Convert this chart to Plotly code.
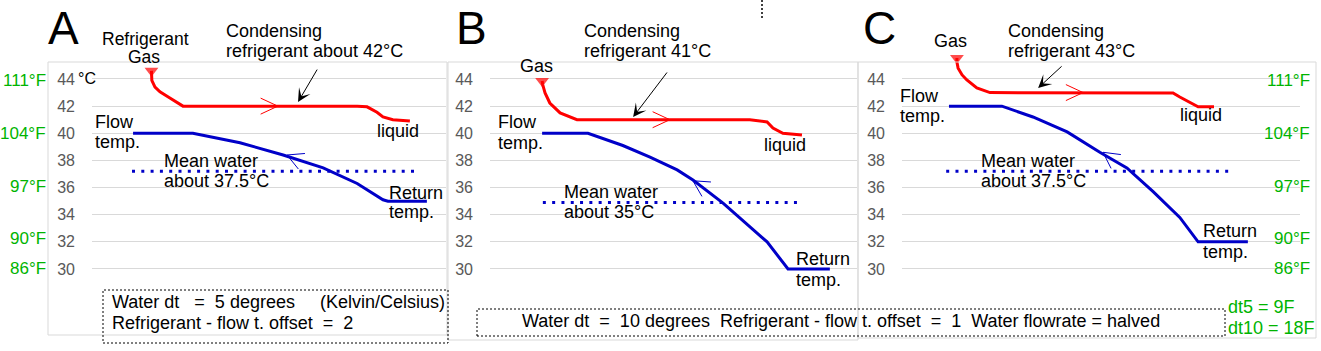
import math
import plotly.graph_objects as go

W, H = 1321, 351
FONT = "Liberation Sans, Arial, sans-serif"
RED = "#ff0000"
BLUE = "#0000c8"
GREEN = "#00b400"
GRID = "#d9d9d9"

# ---------------- data ----------------
temp_ticks = [30, 32, 34, 36, 38, 40, 42, 44]
fahrenheit_labels = [111, 104, 97, 90, 86]

# Panel A (x = position along condenser, 0..100)
refA_x = [16.8, 16.9, 17.8, 19.2, 22.0, 24.9, 25.7, 74.9, 77.7, 80.5, 82.2, 85.0, 89.8]
refA_y = [44.6, 43.9, 43.4, 43.05, 42.6, 42.15, 42.0, 42.0, 41.95, 41.55, 41.2, 41.0, 40.9]
waterA_x = [11.6, 28.5, 41.8, 54.0, 65.3, 74.9, 82.2, 83.6, 94.6]
waterA_y = [40.0, 40.0, 39.3, 38.4, 37.45, 36.3, 35.1, 35.0, 35.0]
meanA_x = [11.3, 92.7]
meanA_y = [37.2, 37.2]

# Panel B
refB_x = [14.2, 14.4, 15.0, 16.3, 19.1, 23.7, 70.8, 75.5, 77.1, 79.8, 85.0]
refB_y = [43.85, 43.55, 42.97, 42.23, 41.5, 41.0, 41.0, 40.83, 40.39, 40.0, 39.87]
waterB_x = [14.2, 26.7, 36.2, 43.6, 51.0, 55.3, 63.5, 68.9, 75.5, 81.2, 92.6]
waterB_y = [40.0, 40.0, 39.1, 38.25, 37.3, 36.55, 34.85, 33.6, 32.0, 30.0, 30.0]
meanB_x = [14.4, 85.0]
meanB_y = [34.9, 34.9]

# Panel C
refC_x = [13.8, 13.8, 14.1, 15.1, 16.3, 18.8, 22.1, 65.6, 68.1, 69.8, 71.1, 72.4, 74.4, 78.4]
refC_y = [45.55, 45.25, 44.8, 44.3, 43.93, 43.34, 43.0, 43.0, 42.97, 42.67, 42.45, 42.23, 41.95, 41.95]
waterC_x = [11.8, 25.1, 32.9, 41.5, 49.7, 56.5, 63.1, 69.8, 74.4, 86.9]
waterC_y = [42.0, 42.0, 41.2, 40.1, 38.6, 37.45, 35.7, 33.8, 32.0, 32.0]
meanC_x = [11.1, 83.2]
meanC_y = [37.2, 37.2]

# flow-direction chevrons (tip positions) and pointer arrow tips
red_chev = {"A": (52.5, 42.0), "B": (49.0, 41.0), "C": (45.5, 43.0)}
blue_chev = {"A": (55.1, 38.4, 156.7), "B": (55.3, 36.5, 148.1), "C": (50.5, 38.6, 144.6)}
pointer_tip = {"A": (58.2, 42.3), "B": (39.0, 41.2), "C": (34.2, 43.34)}

# ---------------- layout helpers ----------------
def px(x):
    return x / W

def py(y):
    return 1 - y / H

# y mapping: 44 deg at 79 px, 13.57 px per deg
Y_RANGE = [25.0, 46.5]
def ypix(v):
    return 79 - (v - 44) * 13.57
y_domain = [py(ypix(Y_RANGE[0])), py(ypix(Y_RANGE[1]))]

panels = {
    "A": dict(xa="x", ya="y", dom=[px(92), px(446)]),
    "B": dict(xa="x2", ya="y2", dom=[px(490), px(857)]),
    "C": dict(xa="x3", ya="y3", dom=[px(902), px(1300)]),
}
series = {
    "A": (refA_x, refA_y, waterA_x, waterA_y, meanA_x, meanA_y),
    "B": (refB_x, refB_y, waterB_x, waterB_y, meanB_x, meanB_y),
    "C": (refC_x, refC_y, waterC_x, waterC_y, meanC_x, meanC_y),
}

fig = go.Figure()
for key, p in panels.items():
    rx, ry, wx, wy, mx, my = series[key]
    fig.add_trace(go.Scatter(x=mx, y=my, xaxis=p["xa"], yaxis=p["ya"], mode="lines",
                             line=dict(color=BLUE, width=3, dash="3px,6.3px"),
                             hoverinfo="skip", cliponaxis=False))
    fig.add_trace(go.Scatter(x=wx, y=wy, xaxis=p["xa"], yaxis=p["ya"], mode="lines",
                             line=dict(color=BLUE, width=3), hoverinfo="skip"))
    fig.add_trace(go.Scatter(x=rx, y=ry, xaxis=p["xa"], yaxis=p["ya"], mode="lines+markers",
                             line=dict(color=RED, width=3),
                             marker=dict(symbol="triangle-down", color=RED,
                                         size=[12] + [0] * (len(rx) - 1), line=dict(width=0)),
                             hoverinfo="skip", cliponaxis=False))

shapes = []
annotations = []

def chevron(xa, ya, tx, ty, direction, length, half, color):
    pts = []
    for s in (1, -1):
        a = math.radians(direction + 180 + s * half)
        pts.append((length * math.cos(a), length * math.sin(a)))
    path = "M{:.1f},{:.1f} L0,0 L{:.1f},{:.1f}".format(pts[0][0], pts[0][1], pts[1][0], pts[1][1])
    return dict(type="path", xref=xa, yref=ya, xsizemode="pixel", ysizemode="pixel",
                xanchor=tx, yanchor=ty, path=path, line=dict(color=color, width=1))

pointer_offsets = {"A": (20, -34), "B": (35, -46), "C": (25, -23)}
for key, p in panels.items():
    tx, ty = red_chev[key]
    shapes.append(chevron(p["xa"], p["ya"], tx, ty, 0, 19, 25, RED))
    bx, by, bd = blue_chev[key]
    shapes.append(chevron(p["xa"], p["ya"], bx, by, bd, 18, 28, BLUE))
    ax_, ay_ = pointer_offsets[key]
    px_, py_ = pointer_tip[key]
    annotations.append(dict(x=px_, y=py_, xref=p["xa"], yref=p["ya"], text="", showarrow=True,
                            ax=ax_, ay=ay_, arrowhead=3, arrowsize=2.2, arrowwidth=1,
                            arrowcolor="black"))

# frames
for (x0, y0, x1, y1) in [(48, 62, 447, 335), (448, 62, 858, 340), (858, 62, 1316, 338)]:
    shapes.append(dict(type="rect", xref="paper", yref="paper", x0=px(x0), y0=py(y1),
                       x1=px(x1), y1=py(y0), line=dict(color=GRID, width=1)))
# dotted note boxes
for (x0, y0, x1, y1) in [(103, 290, 448, 343), (477, 309, 1225, 336)]:
    shapes.append(dict(type="rect", xref="paper", yref="paper", x0=px(x0), y0=py(y1),
                       x1=px(x1), y1=py(y0), line=dict(color="black", width=1, dash="2px,2px")))
shapes.append(dict(type="line", xref="paper", yref="paper", x0=px(762), x1=px(762),
                   y0=py(0), y1=py(19), line=dict(color="black", width=1.5, dash="2px,2px")))

def txt(t, x, y, anchor="left", size=18, color="black", vanchor="middle"):
    annotations.append(dict(text=t, x=px(x), y=py(y), xref="paper", yref="paper",
                            xanchor=anchor, yanchor=vanchor, showarrow=False,
                            font=dict(family=FONT, size=size, color=color)))

NB = "\u00a0"
# Panel letters
txt("A", 46, 0, size=46, vanchor="top")
txt("B", 454, 0, size=46, vanchor="top")
txt("C", 861, 0, size=46, vanchor="top")
# Panel A
txt("Refrigerant", 145, 38.5, "center", size=17.5)
txt("Gas", 144, 57, "center", size=17.5)
txt("Condensing", 224, 31)
txt("refrigerant about 42°C", 224, 51.5)
txt("Flow", 93, 122)
txt("temp.", 93, 142)
txt("liquid", 375, 131)
txt("Mean water", 162, 161)
txt("about 37.5°C", 162, 181)
txt("Return", 387, 193)
txt("temp.", 387, 212)
txt("Water dt" + NB * 3 + "=" + NB * 2 + "5 degrees" + NB * 5 + "(Kelvin/Celsius)", 110, 301.5)
txt("Refrigerant - flow t. offset" + NB * 2 + "=" + NB * 2 + "2", 110, 323)
annotations.append(dict(text="°C", x=px(76), y=44, xref="paper", yref="y", xanchor="left",
                        yanchor="middle", showarrow=False,
                        font=dict(family=FONT, size=16, color="black")))
# Panel B
txt("Gas", 518, 66)
txt("Condensing", 582, 31)
txt("refrigerant 41°C", 582, 51.5)
txt("Flow", 496, 122)
txt("temp.", 496, 143)
txt("liquid", 762, 145)
txt("Mean water", 562, 192)
txt("about 35°C", 562, 212)
txt("Return", 794, 259)
txt("temp.", 794, 280)
txt("Water dt" + NB * 2 + "=" + NB * 2 + "10 degrees" + NB * 2 + "Refrigerant - flow t. offset"
    + NB * 2 + "=" + NB * 2 + "1" + NB * 2 + "Water flowrate = halved", 841, 320.5, "center")
# Panel C
txt("Gas", 932, 41)
txt("Condensing", 1006, 31)
txt("refrigerant 43°C", 1006, 51.5)
txt("Flow", 898, 96)
txt("temp.", 898, 116)
txt("liquid", 1178, 115)
txt("Mean water", 979, 161)
txt("about 37.5°C", 979, 181)
txt("Return", 1201, 231)
txt("temp.", 1201, 252)
txt("dt5 = 9F", 1226, 307, size=18, color=GREEN)
txt("dt10 = 18F", 1226, 328, size=18, color=GREEN)

# Fahrenheit labels placed at their Celsius equivalents
for f in fahrenheit_labels:
    c = (f - 32) * 5 / 9
    annotations.append(dict(text=f"{f}°F", x=px(48), y=c, xref="paper", yref="y",
                            xanchor="right", yanchor="middle", showarrow=False,
                            font=dict(family=FONT, size=17, color=GREEN)))
    annotations.append(dict(text=f"{f}°F", x=px(1312), y=c, xref="paper", yref="y3",
                            xanchor="right", yanchor="middle", showarrow=False,
                            font=dict(family=FONT, size=17, color=GREEN)))

layout = dict(
    width=W, height=H, margin=dict(l=0, r=0, t=0, b=0),
    paper_bgcolor="white", plot_bgcolor="rgba(0,0,0,0)", showlegend=False,
    shapes=shapes, annotations=annotations,
    font=dict(family=FONT),
)
for key, p in panels.items():
    suffix = p["xa"][1:]
    layout["xaxis" + suffix] = dict(domain=p["dom"], range=[0, 100], visible=False,
                                    anchor=p["ya"], fixedrange=True)
    layout["yaxis" + suffix] = dict(domain=y_domain, range=Y_RANGE, anchor=p["xa"],
                                    tickvals=temp_ticks, ticktext=[str(t) for t in temp_ticks],
                                    showgrid=True, gridcolor=GRID, gridwidth=1, zeroline=False,
                                    showline=False, ticks="", ticklabelstandoff=16,
                                    tickfont=dict(family=FONT, size=16, color="#595959"),
                                    fixedrange=True)
fig.update_layout(**layout)
fig.write_html("out.html")
